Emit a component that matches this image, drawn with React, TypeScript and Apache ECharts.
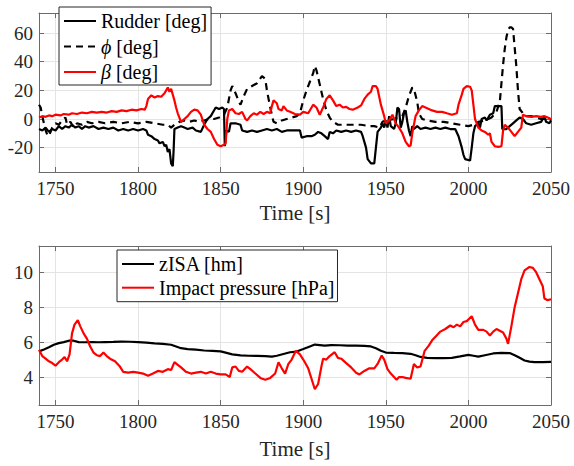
import React, { useEffect, useRef } from "react";
import * as echarts from "echarts";

// ---------- Top panel data (time [s], value [deg]) ----------
const rudderTime = [1740,1742,1744,1746,1748,1750,1752,1754,1756,1758,1760,1762,1764,1766,1768,1770,1773,1776,1779,1782,1785,1788,1791,1794,1797,1800,1803,1805,1806,1808,1810,1812,1813,1815,1816,1817,1818,1819,1820,1821,1821.5,1822,1824,1826,1828,1830,1833,1835,1838,1840,1842,1844,1845,1847,1849,1851,1852,1852.5,1853.5,1855,1856,1859,1862,1863,1866,1869,1872,1875,1878,1881,1884,1887,1890,1893,1896,1898,1899,1902,1905,1907,1909,1911,1913,1915,1916,1918,1920,1923,1926,1929,1932,1935,1936,1937,1938,1939,1941,1943,1944,1945,1947,1948,1949,1950,1951,1952,1953,1955,1956,1957,1958,1959,1960,1961,1962,1963,1964,1965,1966,1967,1969,1971,1974,1977,1980,1983,1986,1989,1992,1994,1995,1996,1997,1998,2001,2002,2003,2004,2006,2007,2008,2010,2011,2013,2015,2016,2020,2020.5,2023,2025,2027,2029,2031,2033,2035,2038,2041,2044,2046,2047,2049,2050];
const rudderDeg = [-7,-8,-6,-9,-7,-8,-5,-7,-5,-6,-4,-6,-5,-7,-5,-6,-5,-7,-6,-7,-6,-8,-7,-8,-7,-8,-7,-8,-11,-12,-14,-15,-17,-16,-19,-18,-23,-21,-31,-33,-22,-7,-6,-5,-6,-7,-6,-8,-9,-4,0,2,4,8,7,8,7,-19,-8,-9,-3,-3,-4,-8,-9,-8,-9,-8,-7,-8,-7,-9,-8,-8,-8,-8,-13,-12,-12,-11,-9,-10,-12,-14,-9,-10,-8,-9,-8,-9,-8,-9,-12,-16,-20,-28,-31,-31,-20,-9,-6,-3,-6,-1,-6,2,-5,-7,-3,8,7,-6,-2,4,6,-2,-8,-12,-5,-7,-5,-7,-6,-7,-6,-7,-6,-7,-7,-12,-16,-20,-25,-28,-29,-20,-10,-5,-3,-6,0,1,-1,3,4,9,9,-7,-7,-5,-3,-1,1,0,-3,-4,-3,-2,2,-2,-3,-1];

const phiTime = [1740,1741,1742,1744,1745,1746,1748,1750,1752,1754,1756,1757,1759,1761,1763,1766,1769,1772,1776,1780,1785,1790,1795,1800,1805,1810,1815,1818,1820,1822,1825,1828,1831,1834,1837,1840,1843,1846,1849,1852,1854,1856,1857,1859,1861,1862,1864,1866,1869,1872,1875,1877,1878,1880,1882,1884,1887,1890,1893,1896,1898,1900,1902,1904,1906,1907,1908,1910,1912,1914,1916,1918,1921,1925,1930,1935,1940,1943,1946,1948,1950,1955,1960,1962,1964,1966,1967,1969,1970,1972,1975,1980,1985,1990,1995,2000,2003,2006,2010,2014,2017,2019,2020,2021,2022,2023,2024,2025,2026,2027,2028,2029,2030,2031,2033,2035,2038,2041,2044,2047,2050];
const phiDeg = [10,8,2,-8,-11,-12,-6,-3,-4,-1,1,-4,-2,-6,-3,-4,-2,-3,-2,-3,-2,-3,-2,-3,-2,-3,-4,-4,-6,-4,-2,-1,-2,-1,-2,-1,0,0,1,3,8,20,23,18,12,10,16,21,23,25,30,28,20,8,-2,-3,-1,0,1,2,4,13,20,26,32,37,34,24,14,6,1,-2,-4,-4,-4,-4,-5,-5,-6,-2,-1,0,2,8,16,22,21,12,4,0,-1,-2,-2,-3,-4,-5,-4,-2,-1,1,5,12,25,38,49,57,62,64,64,63,50,37,20,7,4,2,2,1,0,0,-1];

const betaTime = [1740,1742,1744,1746,1748,1750,1753,1755,1758,1760,1763,1766,1769,1772,1775,1778,1781,1784,1787,1790,1793,1796,1799,1802,1804,1805,1806,1808,1810,1812,1814,1816,1817,1818,1819,1820,1821,1822,1823,1824,1826,1828,1830,1832,1834,1836,1838,1840,1842,1844,1846,1848,1850,1852,1853,1854,1855,1857,1859,1861,1863,1865,1866,1868,1870,1872,1874,1876,1878,1880,1881,1882,1884,1885,1887,1888,1890,1892,1895,1898,1900,1903,1906,1908,1910,1912,1914,1916,1918,1920,1922,1924,1926,1928,1930,1933,1935,1937,1939,1941,1942,1944,1945,1947,1949,1950,1952,1953,1954,1956,1958,1960,1962,1964,1965,1966,1968,1970,1972,1974,1976,1978,1981,1984,1987,1990,1993,1994,1996,1997,1999,2001,2002,2003,2004,2006,2008,2010,2012,2013,2014,2016,2018,2020,2021,2022,2024,2026,2028,2030,2032,2033,2035,2038,2041,2044,2046,2048,2050];
const betaDeg = [1,2,1.5,2.5,2,3,2.5,3.5,3,4,3.5,4.5,4,5,4.5,5,4.5,5.5,5,6,5.5,6.5,6,7,6.5,9,14,16.5,15,16,15.5,18,20,22,19,21,17,13,8,4,-2,0,2,5,6.5,6,3,-4,-7,-9,-14,-18,-19,-18,-17,0,6,7,4,3.5,5,0,-1,2,4,3,5,3.5,5,4,9,13,11,7,6,9,6,5,3.5,3,5,4,10,8,3,8,14,16.5,13,9,10,8,8.5,7,6.5,8,9.5,14,17,19,23,23,21,10,2,-3,-1,1,3,-3,-6,-10,-16,-19,-18.5,-10,2,6,9,8,7,6,5,5,4,3,4,10,17,21,23,22.5,20,10,0,-6,-8,-9,-11,-10,-16,-19,-19.5,-19,-8,-4,-6,-9,-12,-9,-6,3,2,1.5,2,1.5,2,1,0];

// ---------- Bottom panel data ----------
const zisaTime = [1740,1743,1746,1749,1752,1755,1758,1761,1764,1768,1772,1776,1780,1785,1790,1795,1800,1805,1810,1815,1820,1823,1826,1830,1835,1840,1845,1850,1853,1857,1862,1867,1872,1877,1881,1884,1888,1892,1896,1900,1904,1907,1910,1913,1917,1922,1927,1932,1937,1941,1944,1947,1950,1955,1960,1965,1968,1971,1975,1980,1985,1990,1995,2000,2003,2006,2010,2015,2020,2025,2028,2031,2034,2037,2040,2045,2050];
const zisaHm = [5.47,5.58,5.7,5.85,5.94,6.0,6.08,6.08,6.0,5.99,6.0,5.99,6.0,6.01,6.03,6.02,6.0,5.97,5.93,5.9,5.85,5.75,5.65,5.6,5.57,5.52,5.5,5.47,5.4,5.3,5.24,5.22,5.21,5.2,5.17,5.22,5.32,5.42,5.46,5.6,5.75,5.86,5.83,5.8,5.83,5.82,5.8,5.8,5.78,5.75,5.65,5.5,5.4,5.38,5.37,5.33,5.25,5.15,5.1,5.08,5.08,5.1,5.18,5.27,5.22,5.17,5.25,5.35,5.38,5.37,5.25,5.1,4.95,4.88,4.85,4.85,4.87];

const pressTime = [1740,1742,1744,1746,1748,1750,1752,1754,1755.5,1757,1758.5,1760,1761.5,1763.5,1765,1767,1769,1771,1773,1775,1777,1779,1781,1783,1786,1789,1791,1794,1797,1800,1803,1806,1809,1812,1815,1818,1820,1822,1824,1826,1829,1832,1835,1838,1841,1844,1847,1850,1853,1855.5,1857,1859,1861,1863,1866,1868,1871,1874,1877,1880,1883,1885,1887,1889,1891,1893,1895.5,1898,1900,1903,1905,1907,1909,1911,1912,1914,1916,1919,1921,1923,1926,1929,1932,1934,1937,1940,1943,1945,1947.5,1949,1951,1953,1956.5,1958,1960,1962,1965,1967,1969,1971,1973.5,1976,1978,1980.5,1983,1986,1989,1991,1993,1995,1997,1999,2002,2004,2006,2009,2011,2013,2015,2017,2019,2021,2023,2024,2026,2028,2030,2032,2034,2037,2039,2041,2043,2045,2046,2048,2050];
const pressHpa = [5.55,5.2,5.05,4.9,4.8,4.65,4.85,5.0,5.15,4.9,5.3,6.5,7.0,7.25,6.9,6.5,6.2,5.75,5.4,5.25,5.2,5.4,5.2,5.05,4.9,4.6,4.3,4.25,4.3,4.25,4.2,4.08,4.2,4.35,4.3,4.45,4.4,4.85,4.7,4.55,4.3,4.2,4.25,4.3,4.2,4.3,4.2,4.15,4.15,4.0,4.55,4.6,4.35,4.3,4.6,4.45,4.2,3.95,3.85,3.95,4.2,4.85,4.5,4.2,4.75,5.0,5.5,5.3,5.0,4.5,3.9,3.3,3.6,4.6,5.05,5.0,5.2,5.42,5.1,5.05,4.8,4.55,4.25,4.15,4.35,4.5,4.5,4.75,5.23,5.0,4.45,4.2,3.85,4.0,4.0,3.95,3.9,4.75,4.55,4.6,5.5,5.8,6.1,6.35,6.6,6.75,6.95,6.85,7.0,6.9,7.15,7.2,7.48,7.0,6.7,6.7,6.6,6.38,6.6,6.75,6.65,6.55,6.2,5.9,6.9,8.0,8.8,9.6,10.1,10.3,10.25,10.0,9.6,9.2,8.5,8.4,8.45];

const FONT = "Liberation Serif";
const BOX = "#6b6b6b";
const GRIDC = "#e4e4e4";
const TXT = "#262626";

const pairs = (t: number[], v: number[]) => t.map((x, i) => [x, v[i]]);
const plain = (v: number) => String(v);

function xAxes(gridIndex: number, nameGap: number) {
  const common = {
    type: "value" as const,
    gridIndex,
    min: 1740,
    max: 2050,
    splitNumber: 6,
  };
  return [
    {
      ...common,
      position: "bottom",
      axisLine: { show: true, onZero: false, lineStyle: { color: BOX, width: 1 } },
      axisTick: { show: true, inside: true, length: 5, lineStyle: { color: BOX } },
      axisLabel: { color: TXT, fontFamily: FONT, fontSize: 19, margin: 7, showMinLabel: false, showMaxLabel: true, formatter: plain },
      splitLine: { show: true, lineStyle: { color: GRIDC, width: 1 } },
      name: "Time [s]",
      nameLocation: "middle",
      nameGap,
      nameTextStyle: { color: TXT, fontFamily: FONT, fontSize: 21 },
    },
    {
      ...common,
      position: "top",
      axisLine: { show: true, onZero: false, lineStyle: { color: BOX, width: 1 } },
      axisTick: { show: true, inside: true, length: 5, lineStyle: { color: BOX } },
      axisLabel: { show: false },
      splitLine: { show: false },
    },
  ];
}

function yAxes(gridIndex: number, min: number, max: number, splitNumber: number) {
  const common = { type: "value" as const, gridIndex, min, max, splitNumber };
  return [
    {
      ...common,
      position: "left",
      axisLine: { show: true, onZero: false, lineStyle: { color: BOX, width: 1 } },
      axisTick: { show: true, inside: true, length: 5, lineStyle: { color: BOX } },
      axisLabel: { color: TXT, fontFamily: FONT, fontSize: 19, margin: 6, showMinLabel: false, showMaxLabel: false, formatter: plain },
      splitLine: { show: true, lineStyle: { color: GRIDC, width: 1 } },
    },
    {
      ...common,
      position: "right",
      axisLine: { show: true, onZero: false, lineStyle: { color: BOX, width: 1 } },
      axisTick: { show: true, inside: true, length: 5, lineStyle: { color: BOX } },
      axisLabel: { show: false },
      splitLine: { show: false },
    },
  ];
}

const legendText = { color: "#000", fontFamily: FONT, fontSize: 20, rich: { i: { fontStyle: "italic", fontFamily: FONT, fontSize: 20, color: "#000" } } };
const legendCommon = {
  orient: "vertical",
  itemWidth: 32,
  itemHeight: 14,
  backgroundColor: "#ffffff",
  borderColor: "#262626",
  borderWidth: 1,
  borderRadius: 0,
  textStyle: legendText,
  itemStyle: { opacity: 0, borderWidth: 0 },
  selectedMode: false,
};

export default function App() {
  const ref = useRef<HTMLDivElement>(null);
  useEffect(() => {
    if (!ref.current) return;
    const chart = echarts.init(ref.current, null, { renderer: "svg" });
    const lineSeries = (name: string, xi: number, yi: number, data: number[][], color: string, dashed = false) => ({
      type: "line",
      name,
      xAxisIndex: xi,
      yAxisIndex: yi,
      data,
      symbol: "none",
      showSymbol: false,
      silent: true,
      lineStyle: { color, width: 2.2, type: dashed ? [7, 5] : "solid" },
      itemStyle: { color },
    });
    chart.setOption({
      animation: false,
      backgroundColor: "#ffffff",
      textStyle: { fontFamily: FONT },
      grid: [
        { left: 39, right: 23, top: 13, height: 159 },
        { left: 39, right: 23, top: 246, height: 159 },
      ],
      xAxis: [...xAxes(0, 30), ...xAxes(1, 33)],
      yAxis: [...yAxes(0, -37, 74, 5), ...yAxes(1, 2.4, 11.5, 4)],
      legend: [
        {
          ...legendCommon,
          data: ["Rudder [deg]", "ϕ [deg]", "β [deg]"],
          left: 59,
          top: 7,
          padding: [4, 4, 3, 4],
          itemGap: 5.5,
          formatter: (n: string) => (n === "ϕ [deg]" ? "{i|ϕ} [deg]" : n === "β [deg]" ? "{i|β} [deg]" : n),
        },
        {
          ...legendCommon,
          data: ["zISA [hm]", "Impact pressure [hPa]"],
          left: 117,
          top: 250,
          padding: [4, 3, 4, 4],
          itemGap: 3.7,
        },
      ],
      series: [
        lineSeries("Rudder [deg]", 0, 0, pairs(rudderTime, rudderDeg), "#000000"),
        lineSeries("ϕ [deg]", 0, 0, pairs(phiTime, phiDeg), "#000000", true),
        lineSeries("β [deg]", 0, 0, pairs(betaTime, betaDeg), "#ff0000"),
        lineSeries("zISA [hm]", 2, 2, pairs(zisaTime, zisaHm), "#000000"),
        lineSeries("Impact pressure [hPa]", 2, 2, pairs(pressTime, pressHpa), "#ff0000"),
      ],
    });
    return () => chart.dispose();
  }, []);
  return <div ref={ref} style={{ position: "absolute", left: 0, top: 0, width: 574, height: 466 }} />;
}
